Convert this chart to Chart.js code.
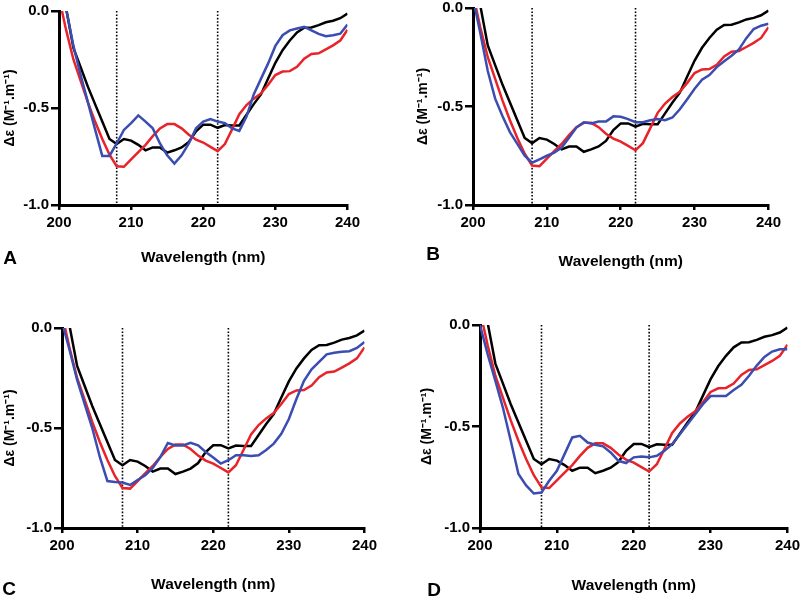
<!DOCTYPE html>
<html>
<head>
<meta charset="utf-8">
<script src="https://cdn.jsdelivr.net/npm/chart.js@4.4.1/dist/chart.umd.min.js"></script>
<style>
  body { margin: 0; width: 800px; height: 599px; overflow: hidden; background: #fff; position: relative; }
  canvas { position: absolute; }
  .tag { position: absolute; font: bold 19px "Liberation Sans", Arial, sans-serif; transform: translate(-50%, -50%); }
</style>
</head>
<body>
<canvas id="chartA" width="362" height="267" style="left:2px;top:0px"></canvas>
<canvas id="chartB" width="370" height="274" style="left:415px;top:-3px"></canvas>
<canvas id="chartC" width="379" height="277" style="left:2px;top:317px"></canvas>
<canvas id="chartD" width="385" height="281" style="left:419px;top:314px"></canvas>
<div class="tag" style="left:10px;top:258px">A</div>
<div class="tag" style="left:433px;top:254px">B</div>
<div class="tag" style="left:9px;top:589px">C</div>
<div class="tag" style="left:434px;top:590px">D</div>
<script>
const wavelengths = [200, 201, 202, 203, 204, 205, 206, 207, 208, 209, 210, 211, 212, 213, 214, 215, 216, 217, 218, 219, 220,
  221, 222, 223, 224, 225, 226, 227, 228, 229, 230, 231, 232, 233, 234, 235, 236, 237, 238, 239, 240];

// black trace, same in every panel
const blackTrace = [0.22, 0.01, -0.19, -0.29, -0.39, -0.48, -0.57, -0.66, -0.686, -0.66, -0.668, -0.69, -0.718, -0.703, -0.703,
  -0.73, -0.718, -0.703, -0.675, -0.62, -0.586, -0.586, -0.602, -0.588, -0.59, -0.59, -0.535, -0.48, -0.43, -0.348, -0.267,
  -0.202, -0.152, -0.11, -0.086, -0.085, -0.073, -0.058, -0.05, -0.037, -0.013];

// red trace, same in every panel
const redTrace = [0.07, -0.1, -0.25, -0.36, -0.47, -0.57, -0.66, -0.74, -0.8, -0.803, -0.765, -0.727, -0.69, -0.645, -0.605,
  -0.583, -0.583, -0.605, -0.638, -0.663, -0.678, -0.7, -0.722, -0.686, -0.61, -0.532, -0.485, -0.452, -0.425, -0.38, -0.33,
  -0.312, -0.31, -0.288, -0.246, -0.222, -0.218, -0.198, -0.177, -0.152, -0.097];

// blue trace, one per panel
const blueA = [0.2, 0.01, -0.18, -0.33, -0.47, -0.61, -0.747, -0.747, -0.683, -0.613, -0.578, -0.538, -0.57, -0.605, -0.683,
  -0.744, -0.787, -0.744, -0.683, -0.605, -0.57, -0.557, -0.57, -0.578, -0.605, -0.618, -0.544, -0.43, -0.35, -0.27, -0.18,
  -0.125, -0.1, -0.09, -0.082, -0.1, -0.118, -0.13, -0.125, -0.117, -0.07];
const blueB = [0.05, -0.13, -0.32, -0.46, -0.55, -0.63, -0.69, -0.75, -0.785, -0.768, -0.75, -0.734, -0.708, -0.658, -0.607,
  -0.58, -0.586, -0.576, -0.576, -0.55, -0.552, -0.564, -0.58, -0.58, -0.57, -0.564, -0.57, -0.556, -0.514, -0.463, -0.41,
  -0.364, -0.34, -0.3, -0.27, -0.242, -0.21, -0.153, -0.107, -0.09, -0.08];
const blueC = [0.03, -0.11, -0.26, -0.38, -0.5, -0.645, -0.765, -0.77, -0.773, -0.785, -0.76, -0.736, -0.7, -0.645, -0.575,
  -0.587, -0.587, -0.574, -0.587, -0.62, -0.648, -0.678, -0.661, -0.636, -0.636, -0.64, -0.636, -0.61, -0.578, -0.529, -0.455,
  -0.355, -0.264, -0.207, -0.169, -0.132, -0.124, -0.119, -0.116, -0.1, -0.07];
const blueD = [0.0, -0.145, -0.275, -0.41, -0.57, -0.734, -0.79, -0.83, -0.825, -0.767, -0.718, -0.636, -0.554, -0.546, -0.579,
  -0.59, -0.598, -0.628, -0.669, -0.68, -0.652, -0.648, -0.652, -0.644, -0.62, -0.587, -0.538, -0.489, -0.44, -0.39, -0.35,
  -0.35, -0.35, -0.32, -0.295, -0.25, -0.2, -0.157, -0.131, -0.12, -0.12];

const markers = [208, 222];
const xTicks = [200, 210, 220, 230, 240];
const yTicks = [0, -0.5, -1];

const FONT = '"Liberation Sans", Arial, sans-serif';

function toPoints(values) {
  return wavelengths.map((w, i) => ({ x: w, y: values[i] }));
}

function makePanel(id, blue, yWidth, xHeight) {
  const lineStyle = { pointRadius: 0, borderWidth: 2.5, tension: 0, fill: false };
  const datasets = [
    { data: toPoints(blue), borderColor: "#3b4db0", ...lineStyle },
    { data: toPoints(redTrace), borderColor: "#e8232a", ...lineStyle },
    { data: toPoints(blackTrace), borderColor: "#000000", ...lineStyle },
  ];
  markers.forEach((m) => {
    datasets.push({
      data: [{ x: m, y: 0 }, { x: m, y: -1 }],
      borderColor: "#000", borderWidth: 1.6, borderDash: [1.6, 1.8], pointRadius: 0
    });
  });

  new Chart(document.getElementById(id), {
    type: "line",
    data: { datasets },
    options: {
      responsive: false,
      animation: false,
      devicePixelRatio: 1,
      layout: { padding: { left: 0, top: 10, right: 14, bottom: 0 } },
      plugins: { legend: { display: false }, tooltip: { enabled: false } },
      scales: {
        x: {
          type: "linear", min: 200, max: 240,
          afterBuildTicks: (s) => { s.ticks = xTicks.map((v) => ({ value: v })); },
          afterFit: (s) => { s.height = xHeight; },
          ticks: { color: "#000", padding: 4, font: { family: FONT, size: 15, weight: "bold" } },
          grid: { drawOnChartArea: false, tickLength: 5, color: "#000", lineWidth: 2.5 },
          border: { color: "#000", width: 3 },
          title: { display: true, text: "Wavelength (nm)", color: "#000", padding: 0,
                   font: { family: FONT, size: 15.5, weight: "bold" } }
        },
        y: {
          min: -1, max: 0,
          afterBuildTicks: (s) => { s.ticks = yTicks.map((v) => ({ value: v })); },
          afterFit: (s) => { s.width = yWidth; },
          ticks: { color: "#000", padding: 2, callback: (v) => v.toFixed(1),
                   font: { family: FONT, size: 15, weight: "bold" } },
          grid: { drawOnChartArea: false, tickLength: 8, color: "#000", lineWidth: 2.5 },
          border: { color: "#000", width: 3 },
          title: { display: true, text: "Δε (M⁻¹.m⁻¹)", color: "#000", padding: 0,
                   font: { family: FONT, size: 14, weight: "bold" } }
        }
      }
    }
  });
}

makePanel("chartA", blueA, 57, 62);
makePanel("chartB", blueB, 58, 66);
makePanel("chartC", blueC, 60, 66);
makePanel("chartD", blueD, 61, 67);
</script>
</body>
</html>
